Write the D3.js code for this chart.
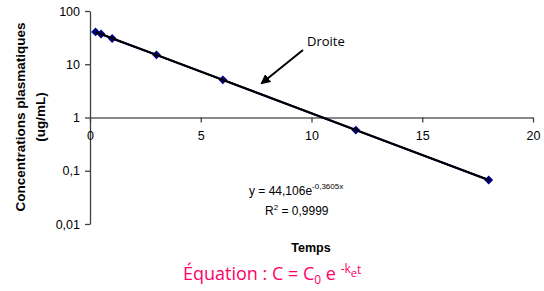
<!DOCTYPE html>
<html>
<head>
<meta charset="utf-8">
<script src="https://cdn.jsdelivr.net/npm/d3@7"></script>
<style>
  body { margin: 0; background: #fff; }
  text { font-family: "Liberation Sans", Arial, sans-serif; }
</style>
</head>
<body>
<div id="chart"></div>
<script>
const width = 544, height = 291;

// temps (h) and concentrations (ug/mL)
const temps = [0.25, 0.5, 1, 3, 6, 12, 18];
const conc = [40.5, 37, 30.5, 15, 5.1, 0.58, 0.067];
const yTicks = [100, 10, 1, 0.1, 0.01];
const xTicks = [0, 5, 10, 15, 20];
const C0 = 44.106, ke = 0.3605;

const x = d3.scaleLinear().domain([0, 20]).range([90, 533]);
const y = d3.scaleLog().domain([0.01, 100]).range([224, 11]);

const svg = d3.select("#chart").append("svg")
  .attr("width", width).attr("height", height);

// y axis
const yAxis = svg.append("g")
  .attr("transform", `translate(${x(0)},0)`)
  .call(d3.axisLeft(y).tickValues(yTicks).tickSize(5).tickSizeOuter(0)
    .tickFormat(d => String(d).replace(".", ",")));
yAxis.select(".domain").attr("stroke", "#404040").attr("stroke-width", 1.3);
yAxis.selectAll(".tick line").attr("stroke", "#404040").attr("stroke-width", 1.3);
yAxis.selectAll(".tick text").attr("x", -10).attr("font-size", 12.5).attr("fill", "#000")
  .style("font-family", "'Liberation Sans', Arial, sans-serif");

// x axis crossing at 1
const xAxis = svg.append("g")
  .attr("transform", `translate(0,${y(1)})`)
  .call(d3.axisBottom(x).tickValues(xTicks).tickSize(5).tickSizeOuter(0));
xAxis.select(".domain").attr("stroke", "#606060").attr("stroke-width", 1.3);
xAxis.selectAll(".tick line").attr("stroke", "#404040").attr("stroke-width", 1.3);
xAxis.selectAll(".tick text").attr("y", 14).attr("font-size", 12.5).attr("fill", "#000")
  .style("font-family", "'Liberation Sans', Arial, sans-serif");

// data line
const line = d3.line().x((d, i) => x(temps[i])).y(d => y(d));
svg.append("path").datum(conc)
  .attr("d", line)
  .attr("fill", "none")
  .attr("stroke", "#000080")
  .attr("stroke-width", 2);

// diamonds
svg.append("g").selectAll("path")
  .data(conc)
  .enter().append("path")
  .attr("d", d3.symbol().type(d3.symbolDiamond2).size(50))
  .attr("transform", (d, i) => `translate(${x(temps[i])},${y(d)})`)
  .attr("fill", "#000080");

// trend line
const fit = [temps[0], temps[temps.length - 1]];
svg.append("path")
  .datum(fit)
  .attr("d", d3.line().x(t => x(t)).y(t => y(C0 * Math.exp(-ke * t))))
  .attr("fill", "none")
  .attr("stroke", "#000")
  .attr("stroke-width", 2);

// arrow annotation
svg.append("defs").append("marker")
  .attr("id", "arrow")
  .attr("viewBox", "0 0 10 10")
  .attr("refX", 8).attr("refY", 5)
  .attr("markerWidth", 5).attr("markerHeight", 5)
  .attr("orient", "auto")
  .append("path").attr("d", "M0,0L10,5L0,10z").attr("fill", "#000");
svg.append("line")
  .attr("x1", 303).attr("y1", 50).attr("x2", 262).attr("y2", 83)
  .attr("stroke", "#000").attr("stroke-width", 2)
  .attr("marker-end", "url(#arrow)");
svg.append("text")
  .attr("x", 307).attr("y", 46)
  .attr("font-size", 13)
  .style("font-family", "'Open Sans', sans-serif")
  .text("Droite");

// equation of the trendline
const eq = svg.append("text").attr("x", 249).attr("y", 195).attr("font-size", 12);
eq.append("tspan").text("y = 44,106e");
eq.append("tspan").attr("dy", -6).attr("font-size", 8).text("-0,3605x");
const r2 = svg.append("text").attr("x", 265).attr("y", 215).attr("font-size", 12);
r2.append("tspan").text("R");
r2.append("tspan").attr("dy", -5).attr("font-size", 8).text("2");
r2.append("tspan").attr("dy", 5).text(" = 0,9999");

// axis titles
svg.append("text")
  .attr("x", 311).attr("y", 252)
  .attr("text-anchor", "middle")
  .attr("font-size", 12.5).attr("font-weight", "bold")
  .text("Temps");

const yt = svg.append("text")
  .attr("transform", "translate(25,117) rotate(-90)")
  .attr("text-anchor", "middle")
  .attr("font-size", 13.5).attr("font-weight", "bold");
yt.append("tspan").attr("x", 0).attr("y", 0).text("Concentrations plasmatiques");
yt.append("tspan").attr("x", 0).attr("y", 20).text("(ug/mL)");

// pink equation caption
const cap = svg.append("text")
  .attr("x", 183).attr("y", 280)
  .attr("font-size", 18)
  .attr("fill", "#ff0066")
  .style("font-family", "'Open Sans', sans-serif");
cap.append("tspan").text("Équation : C = C");
cap.append("tspan").attr("dy", 4).attr("font-size", 12).text("0");
cap.append("tspan").attr("dy", -4).text(" e ");
cap.append("tspan").attr("dy", -7).attr("font-size", 12).text("-k");
cap.append("tspan").attr("dy", 4).attr("font-size", 11).text("e");
cap.append("tspan").attr("dy", -3).attr("font-size", 12).text("t");
</script>
</body>
</html>
